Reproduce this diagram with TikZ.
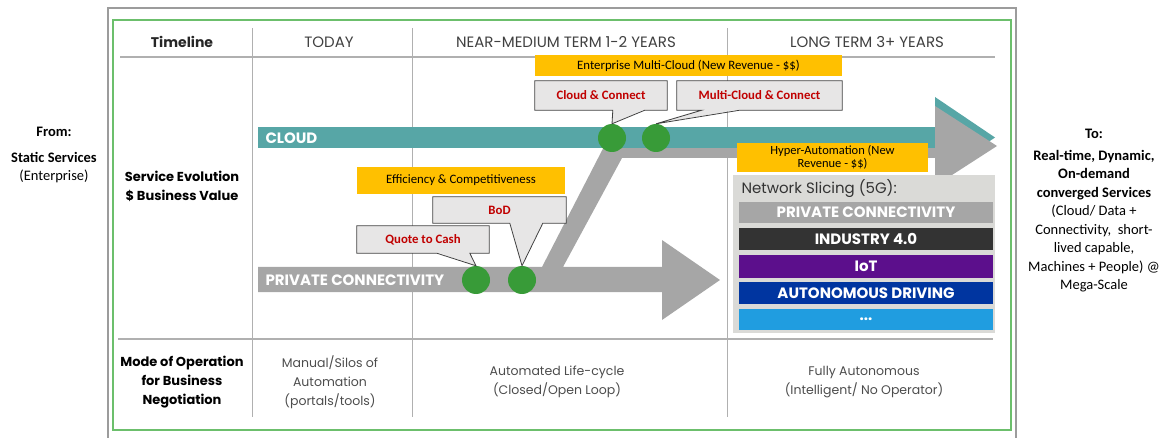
\documentclass[tikz,border=0pt]{standalone}
\usepackage{fontspec}
\setmainfont{Poppins}
\newfontfamily\calibri{Carlito}
\usetikzlibrary{calc}

\definecolor{cloudteal}{HTML}{57A6A6}
\definecolor{arrowgray}{HTML}{A6A6A6}
\definecolor{dotgreen}{HTML}{389B38}
\definecolor{calloutfill}{HTML}{E7E6E6}
\definecolor{goldbox}{HTML}{FFC000}
\definecolor{slicebg}{HTML}{DADAD7}
\definecolor{indgray}{HTML}{333333}
\definecolor{iotpurple}{HTML}{5C0F8C}
\definecolor{autoblue}{HTML}{0035A0}
\definecolor{skyblue}{HTML}{209DE0}
\definecolor{framegreen}{HTML}{6CBF6C}
\definecolor{framegray}{HTML}{9C9C9C}
\definecolor{linegray}{HTML}{B0B0B0}
\definecolor{callred}{HTML}{C00000}

% callout outline with a tail pointing to a dot
\newcommand{\calltail}[4]{%
  \fill[calloutfill] ([xshift=#3,yshift=1pt]#1.south west) -- (#2.north) -- ([xshift=#4,yshift=1pt]#1.south west) -- cycle;
  \draw[black!75, line width=0.8pt] (#1.north west) -- (#1.north east) -- (#1.south east)
    -- ([xshift=#4]#1.south west) -- (#2.north) -- ([xshift=#3]#1.south west) -- (#1.south west) -- cycle;}

\begin{document}
\begin{tikzpicture}[x=1pt,y=-1pt,
    hdr/.style={font=\fontsize{15}{17}\selectfont, text=black!75},
    rowlbl/.style={font=\bfseries\fontsize{13}{19}\selectfont, align=center},
    cell/.style={font=\fontsize{12.5}{19}\selectfont, text=black!70, align=center},
    gold/.style={fill=goldbox, inner sep=0pt, align=center, font=\calibri\fontsize{12.8}{14}\selectfont},
    callbox/.style={fill=calloutfill, inner sep=0pt, text=callred, font=\calibri\bfseries\fontsize{12.8}{14}\selectfont},
    dot/.style={circle, fill=dotgreen, minimum size=28pt, inner sep=0pt},
    bartext/.style={text=white, font=\bfseries\fontsize{15}{17}\selectfont},
    slice/.style={minimum width=254pt, inner sep=0pt, text=white, font=\bfseries\fontsize{15}{17}\selectfont},
    side/.style={align=center, font=\calibri\fontsize{14.5}{18.5}\selectfont}
  ]
  \useasboundingbox (0,0) rectangle (1172,438);

  % --- frames ---
  \draw[framegray, line width=1.6pt] (108,8) rectangle (1016,445);
  \draw[framegreen, line width=1.8pt] (113,20) rectangle (1011,430);

  % --- grid ---
  \draw[linegray, line width=1.2pt] (120,57) -- (995,57);
  \draw[linegray, line width=1.2pt] (118,339) -- (993,339);
  \draw[linegray, line width=1pt] (252,28) -- (252,417);
  \draw[linegray, line width=1pt] (412,28) -- (412,417);
  \draw[linegray, line width=1pt] (727,28) -- (727,417);

  % --- header row ---
  \node[hdr, font=\bfseries\fontsize{14}{17}\selectfont, text=black!85] (timeline) at (182,42) {Timeline};
  \node[hdr] (today) at (329,42) {TODAY};
  \node[hdr] (near) at (566,42) {NEAR-MEDIUM TERM 1-2 YEARS};
  \node[hdr] (long) at (867,42) {LONG TERM 3+ YEARS};

  % --- row labels ---
  \node[rowlbl] (service) at (182,186) {Service Evolution\\\$ Business Value};
  \node[rowlbl] (mode) at (182,382) {Mode of Operation\\for Business\\Negotiation};

  % --- bottom cells ---
  \node[cell] (manual) at (330,382) {Manual/Silos of\\Automation\\(portals/tools)};
  \node[cell] (auto) at (557,382) {Automated Life-cycle\\(Closed/Open Loop)};
  \node[cell] (fully) at (864,382) {Fully Autonomous\\(Intelligent/ No Operator)};

  % --- arrows ---
  \fill[cloudteal] (935,97) -- (995,137.5) -- (935,178) -- cycle;
  \fill[arrowgray] (258,267) -- (542,267) -- (611,133) -- (935,133) -- (935,106) -- (997,146)
    -- (935,186) -- (935,158) -- (622,158) -- (563,267) -- (662,267) -- (662,240) -- (720,280)
    -- (662,320) -- (662,292) -- (258,292) -- cycle;
  \node[fill=cloudteal, minimum width=677pt, minimum height=21pt, inner sep=0pt, anchor=north west] (cloud) at (258,127) {};
  \node[bartext, anchor=west] (cloudlbl) at (262,138) {CLOUD};
  \node[bartext, anchor=west] (pclbl) at (262,280) {PRIVATE CONNECTIVITY};

  % --- yellow boxes ---
  \node[gold, minimum width=307pt, minimum height=21pt] (enterprise) at (688.5,65.5) {Enterprise Multi-Cloud (New Revenue - \$\$)};
  \node[gold, minimum width=208pt, minimum height=27pt] (efficiency) at (461,180.5) {Efficiency \& Competitiveness};
  \node[gold, minimum width=191pt, minimum height=29pt, font=\calibri\fontsize{12.5}{13.5}\selectfont] (hyper) at (832.5,157.5) {Hyper-Automation (New\\Revenue - \$\$)};

  % --- network slicing ---
  \fill[slicebg] (733,175) rectangle (995,333);
  \node[anchor=west, font=\fontsize{15}{17}\selectfont, text=black!80] (slicing) at (738,189) {Network Slicing (5G):};
  \node[slice, fill=arrowgray, minimum height=21pt] (spc) at (866,212.5) {PRIVATE CONNECTIVITY};
  \node[slice, fill=indgray, minimum height=22pt] (sind) at (866,239) {INDUSTRY 4.0};
  \node[slice, fill=iotpurple, minimum height=23pt] (siot) at (866,266.5) {IoT};
  \node[slice, fill=autoblue, minimum height=22pt] (sauto) at (866,293) {AUTONOMOUS DRIVING};
  \node[slice, fill=skyblue, minimum height=21pt] (smore) at (866,319.5) {...};

  % --- milestones ---
  \node[dot] (qtc) at (476,280) {};
  \node[dot] (bod) at (522,280) {};
  \node[dot] (cnc) at (612,138) {};
  \node[dot] (mcc) at (656,138) {};

  % --- callouts ---
  \node[callbox, minimum width=132pt, minimum height=29pt] (cncbox) at (601,95.5) {Cloud \& Connect};
  \node[callbox, minimum width=165pt, minimum height=29pt] (mccbox) at (759.5,95.5) {Multi-Cloud \& Connect};
  \node[callbox, minimum width=133pt, minimum height=26pt] (bodbox) at (499.5,210) {BoD};
  \node[callbox, minimum width=132pt, minimum height=27pt] (qtcbox) at (423,239.5) {Quote to Cash};
  \calltail{cncbox}{cnc}{78pt}{110pt}
  \calltail{mccbox}{mcc}{25pt}{63pt}
  \calltail{bodbox}{bod}{77pt}{110pt}
  \calltail{qtcbox}{qtc}{80pt}{113pt}

  % --- from / to ---
  \node[side] (from) at (54,155) {\textbf{From:}\\[7pt]\textbf{Static Services}\\(Enterprise)};
  \node[side] (to) at (1094,211) {\textbf{To:}\\[3pt]\textbf{Real-time, Dynamic,}\\\textbf{On-demand}\\\textbf{converged Services}\\(Cloud/ Data +\\Connectivity,\ \ short-\\lived capable,\\Machines + People) @\\Mega-Scale};
\end{tikzpicture}
\end{document}
